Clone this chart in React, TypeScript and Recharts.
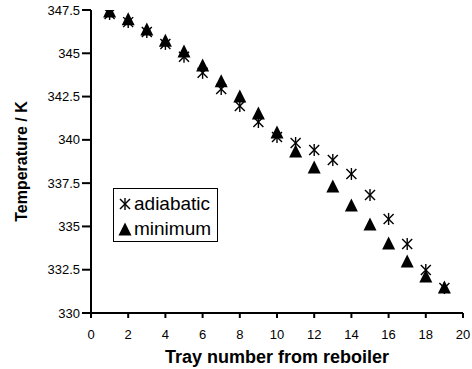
import React from "react";
import { ScatterChart, Scatter, XAxis, YAxis } from "recharts";

const trays = [1, 2, 3, 4, 5, 6, 7, 8, 9, 10, 11, 12, 13, 14, 15, 16, 17, 18, 19];
const adiabatic = [347.27, 346.8, 346.23, 345.54, 344.8, 343.87, 342.94, 341.96, 341.03, 340.17, 339.82, 339.42, 338.84, 338.03, 336.82, 335.43, 333.99, 332.48, 331.44];
const minimum = [347.39, 346.93, 346.35, 345.7, 345.08, 344.27, 343.35, 342.48, 341.5, 340.4, 339.3, 338.38, 337.28, 336.18, 335.08, 333.99, 332.95, 332.08, 331.44];
const xTicks = [0, 2, 4, 6, 8, 10, 12, 14, 16, 18, 20];
const yTicks = [330, 332.5, 335, 337.5, 340, 342.5, 345, 347.5];

const adiabaticData = trays.map((x, i) => ({ x, y: adiabatic[i] }));
const minimumData = trays.map((x, i) => ({ x, y: minimum[i] }));

const font = "'Liberation Sans', Arial, sans-serif";

function Star(props: any) {
  const { cx, cy } = props;
  const r = 6;
  const d = 5;
  return (
    <g stroke="#000" strokeWidth={1.4}>
      <line x1={cx} y1={cy - r} x2={cx} y2={cy + r} />
      <line x1={cx - d} y1={cy - d} x2={cx + d} y2={cy + d} />
      <line x1={cx - d} y1={cy + d} x2={cx + d} y2={cy - d} />
    </g>
  );
}

function Tri(props: any) {
  const { cx, cy } = props;
  const s = 6.5;
  return <path d={`M${cx},${cy - s - 1} L${cx + s},${cy + s - 1} L${cx - s},${cy + s - 1} Z`} fill="#000" />;
}

function LegendBox() {
  return (
    <div
      style={{
        position: "absolute",
        left: 113,
        top: 188,
        width: 105,
        height: 54,
        border: "1px solid #000",
        background: "#fff",
        padding: "2px 3px 0 4px",
        fontFamily: font,
        fontSize: 19,
        lineHeight: "25px",
        boxSizing: "border-box",
      }}
    >
      <div style={{ display: "flex", alignItems: "center" }}>
        <svg width={14} height={14} style={{ marginRight: 2 }}>
          <Star cx={7} cy={7} />
        </svg>
        adiabatic
      </div>
      <div style={{ display: "flex", alignItems: "center" }}>
        <svg width={14} height={14} style={{ marginRight: 2 }}>
          <Tri cx={7} cy={8} />
        </svg>
        minimum
      </div>
    </div>
  );
}

export default function App() {
  return (
    <div style={{ position: "absolute", left: 0, top: 0, width: 472, height: 369, background: "#fff" }}>
      <ScatterChart width={472} height={369} margin={{ top: 10, right: 9, bottom: 0, left: 0 }}>
        <XAxis
          type="number"
          dataKey="x"
          domain={[0, 20]}
          allowDataOverflow
          ticks={xTicks}
          interval={0}
          height={56}
          tickSize={5}
          tickMargin={12}
          axisLine={{ stroke: "#000", strokeWidth: 2 }}
          tickLine={{ stroke: "#000", strokeWidth: 2 }}
          tick={{ fill: "#000", fontSize: 13, fontFamily: font }}
          label={{ value: "Tray number from reboiler", position: "insideBottom", offset: 6, fill: "#000", fontSize: 18, fontWeight: "bold", fontFamily: font }}
        />
        <YAxis
          type="number"
          dataKey="y"
          domain={[330, 347.5]}
          allowDataOverflow
          ticks={yTicks}
          interval={0}
          width={91}
          tickSize={9}
          axisLine={{ stroke: "#000", strokeWidth: 2 }}
          tickLine={{ stroke: "#000", strokeWidth: 2 }}
          tick={{ fill: "#000", fontSize: 13, fontFamily: font }}
          label={{ value: "Temperature / K", angle: -90, position: "insideLeft", offset: 21, style: { textAnchor: "middle" }, fill: "#000", fontSize: 16, fontWeight: "bold", fontFamily: font }}
        />
        <Scatter name="adiabatic" data={adiabaticData} shape={<Star />} isAnimationActive={false} />
        <Scatter name="minimum" data={minimumData} shape={<Tri />} isAnimationActive={false} />
      </ScatterChart>
      <LegendBox />
    </div>
  );
}
